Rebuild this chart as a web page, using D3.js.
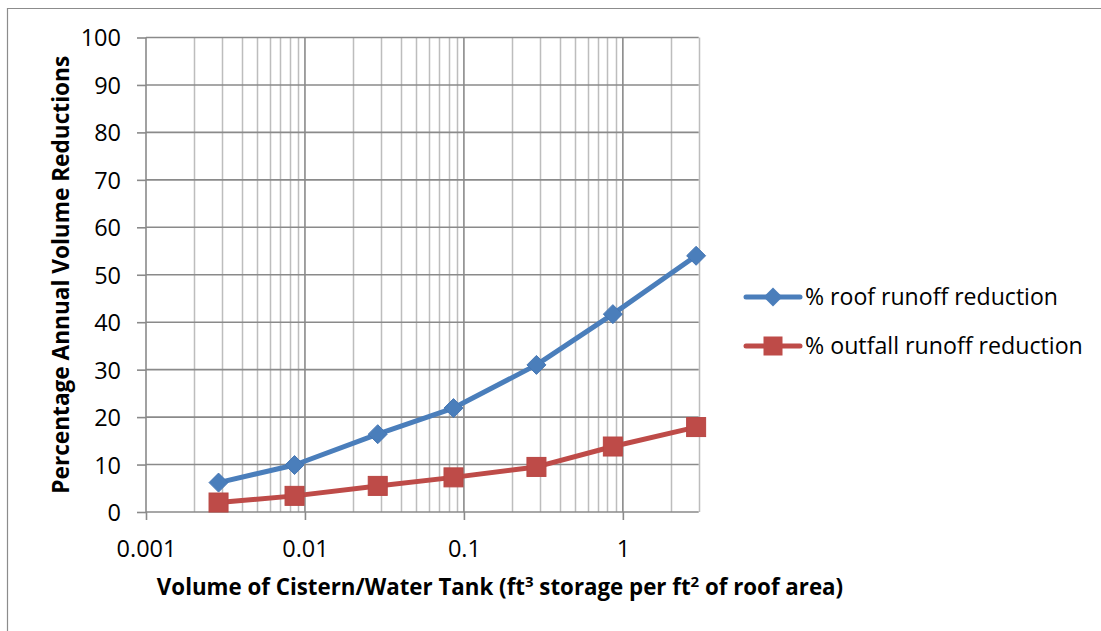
<!DOCTYPE html>
<html><head><meta charset="utf-8">
<script src="https://cdn.jsdelivr.net/npm/d3@7"></script>
<style>body{margin:0;background:#fff}svg{display:block}text{font-family:"Open Sans",Lato,sans-serif;fill:#000}</style>
</head><body>
<svg id="c" width="1101" height="631"></svg>
<script>
const xValues = [0.00286, 0.0086, 0.0287, 0.086, 0.286, 0.865, 2.89];
const roofReduction = [6.2, 9.9, 16.4, 21.9, 31.0, 41.7, 54.0];
const outfallReduction = [2.0, 3.4, 5.5, 7.3, 9.5, 13.8, 17.9];
const seriesNames = ["% roof runoff reduction", "% outfall runoff reduction"];
const xTickLabels = [0.001, 0.01, 0.1, 1];
const yTickLabels = [0,10,20,30,40,50,60,70,80,90,100];

const svg = d3.select("#c");
const L = 146, R = 698.7, T = 37.5, B = 512;
const x = d3.scaleLog().domain([0.001, 3]).range([L, R]);
const y = d3.scaleLinear().domain([0, 100]).range([B, T]);

function fit(sel, target) {
  const w = sel.node().getComputedTextLength();
  const fs = parseFloat(sel.attr("font-size"));
  sel.attr("font-size", (fs * target / w).toFixed(2));
}

// outer frame
svg.append("path").attr("d","M7.5,631 V8.5 H1101").attr("fill","none").attr("stroke","#8c8c8c").attr("stroke-width",1.2);

// minor vertical gridlines
const minor = [];
for (let e = -3; e <= 0; e++) for (let m = 2; m <= 9; m++) { const v = m * Math.pow(10, e); if (v <= 3.0001) minor.push(v); }
svg.append("g").selectAll("line").data(minor).join("line")
  .attr("x1", d => Math.round(x(d)) + 0.5).attr("x2", d => Math.round(x(d)) + 0.5)
  .attr("y1", T).attr("y2", B).attr("stroke", "#bdbdbd").attr("stroke-width", 1.5);
// major vertical gridlines
svg.append("g").selectAll("line").data(xTickLabels.slice(1)).join("line")
  .attr("x1", d => x(d)).attr("x2", d => x(d))
  .attr("y1", T).attr("y2", B).attr("stroke", "#8a8a8a").attr("stroke-width", 1.6);
// horizontal gridlines
svg.append("g").selectAll("line").data(yTickLabels.slice(1)).join("line")
  .attr("x1", L).attr("x2", R).attr("y1", d => y(d)).attr("y2", d => y(d))
  .attr("stroke", "#8a8a8a").attr("stroke-width", 1.6);

// axes
const yAxis = d3.axisLeft(y).tickValues(yTickLabels).tickSize(9).tickPadding(16).tickFormat(d3.format("d"));
const gy = svg.append("g").attr("transform", `translate(${L},0)`).call(yAxis);
const xAxis = d3.axisBottom(x).tickValues(xTickLabels).tickSize(8).tickPadding(20).tickFormat(d => String(d));
const gx = svg.append("g").attr("transform", `translate(0,${B})`).call(xAxis);
[gy, gx].forEach(g => {
  g.select(".domain").attr("stroke", "#8a8a8a").attr("stroke-width", 1.6);
  g.selectAll(".tick line").attr("stroke", "#8a8a8a").attr("stroke-width", 1.6);
  g.selectAll(".tick text").attr("font-size", 23.5).attr("font-family", "'Open Sans',Lato,sans-serif").attr("fill", "#000");
});
gy.select(".domain").attr("d", `M0,${B}V${T}`);
gx.select(".domain").attr("d", `M${L},0H${R}`);
gy.selectAll(".tick text").attr("dy", "0.36em");
gx.selectAll(".tick text").attr("dy", "0.72em");

// series
const colors = ["#4a7ebb", "#be4b48"];
const data = [roofReduction, outfallReduction];
const line = d3.line().x((d, i) => x(xValues[i])).y(d => y(d));
data.forEach((s, k) => {
  svg.append("path").datum(s).attr("d", line).attr("fill", "none")
    .attr("stroke", colors[k]).attr("stroke-width", 5).attr("stroke-linejoin", "round");
});
const diamond = (cx, cy, r) => `M${cx},${cy - r}L${cx + r},${cy}L${cx},${cy + r}L${cx - r},${cy}Z`;
svg.append("g").selectAll("path").data(roofReduction).join("path")
  .attr("d", (d, i) => diamond(x(xValues[i]), y(d), 9.5)).attr("fill", colors[0]).attr("stroke", "#4677b5").attr("stroke-width", 1);
svg.append("g").selectAll("rect").data(outfallReduction).join("rect")
  .attr("x", (d, i) => x(xValues[i]) - 9.5).attr("y", d => y(d) - 9.5).attr("width", 19).attr("height", 19)
  .attr("fill", colors[1]).attr("stroke", "#b94744").attr("stroke-width", 1);

// legend
const lg = svg.append("g");
const legTargets = [253, 278];
[297, 346].forEach((ly, k) => {
  lg.append("line").attr("x1", 746).attr("x2", 800).attr("y1", ly).attr("y2", ly)
    .attr("stroke", colors[k]).attr("stroke-width", 5).attr("stroke-linecap", "round");
  if (k === 0) lg.append("path").attr("d", diamond(773, ly, 9.5)).attr("fill", colors[0]);
  else lg.append("rect").attr("x", 763.5).attr("y", ly - 9.5).attr("width", 19).attr("height", 19).attr("fill", colors[1]);
  const t = lg.append("text").attr("x", 805).attr("y", ly).attr("dy", "0.36em").attr("font-size", 20).text(seriesNames[k]);
  fit(t, legTargets[k]);
});

// axis titles
const yt = svg.append("text").attr("transform", `translate(61,${(T + B) / 2}) rotate(-90)`)
  .attr("text-anchor", "middle").attr("dy", "0.36em").attr("font-weight", "bold").attr("font-size", 20)
  .text("Percentage Annual Volume Reductions");
fit(yt, 438);
const xt = svg.append("text").attr("x", 500).attr("y", 595).attr("text-anchor", "middle")
  .attr("font-weight", "bold").attr("font-size", 22.3);
xt.append("tspan").text("Volume of Cistern/Water Tank (ft");
xt.append("tspan").attr("font-size", 15).attr("dy", -8.5).text("3");
xt.append("tspan").attr("dy", 8.5).text(" storage per ft");
xt.append("tspan").attr("font-size", 15).attr("dy", -8.5).text("2");
xt.append("tspan").attr("dy", 8.5).text(" of roof area)");
</script>
</body></html>
